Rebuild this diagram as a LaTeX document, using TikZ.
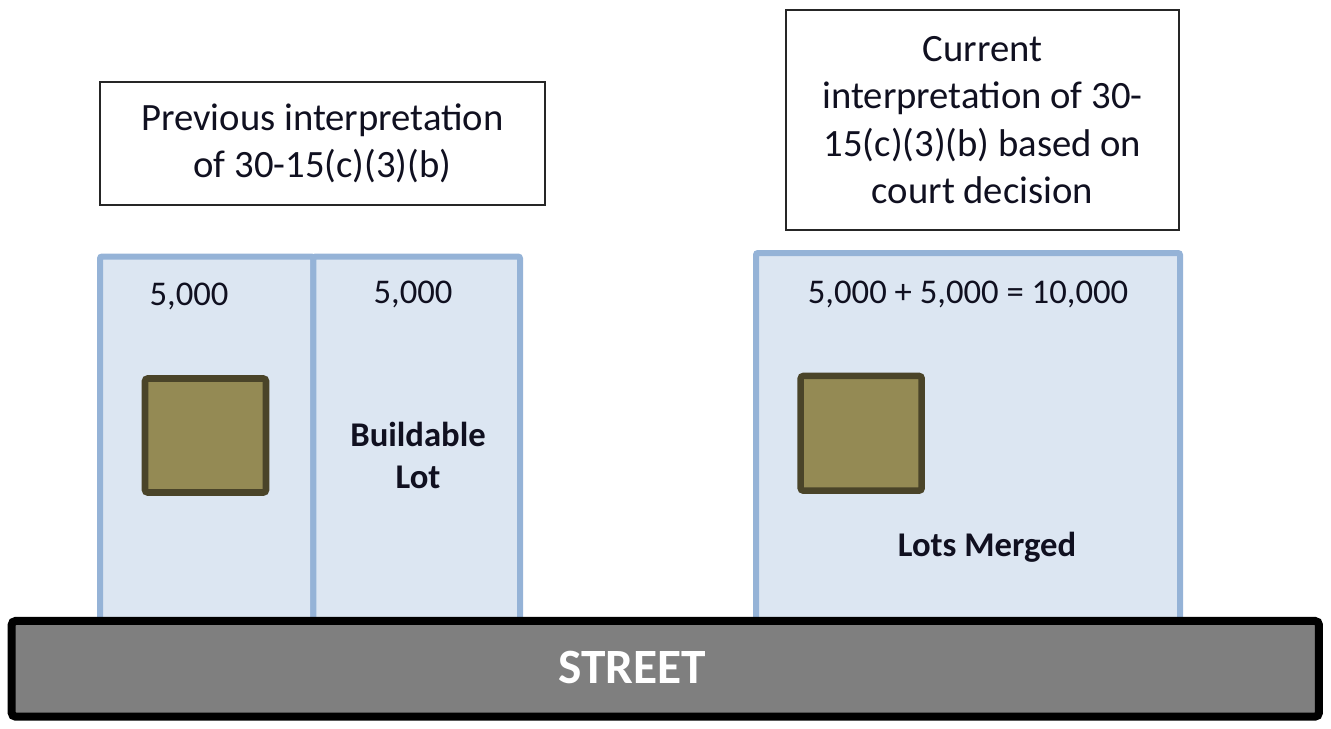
\documentclass[tikz,border=0pt]{standalone}
\usepackage{fontspec}
\setmainfont{Carlito}
\definecolor{lotline}{HTML}{95B3D7}
\definecolor{lotfill}{HTML}{DCE6F2}
\definecolor{housefill}{HTML}{948A54}
\definecolor{houseline}{HTML}{4A4429}
\definecolor{streetfill}{HTML}{7F7F7F}
\definecolor{txt}{HTML}{101020}
\begin{document}
\begin{tikzpicture}[x=0.75pt,y=-0.75pt,
  titlebox/.style={draw=black!85,line width=1.5pt,fill=white,inner sep=0pt,
    font=\fontsize{29}{35.5}\selectfont,text=txt,align=center},
  lotbox/.style={draw=lotline,fill=lotfill,line width=4.5pt,rounded corners=1.5pt,inner sep=0pt},
  housebox/.style={draw=houseline,fill=housefill,line width=4.9pt,rounded corners=2pt,inner sep=0pt},
  streetbox/.style={draw=black,fill=streetfill,line width=6pt,rounded corners=3pt,inner sep=0pt,
    text=white,font=\fontsize{37}{44}\selectfont\bfseries},
  lbl/.style={inner sep=0pt,text=txt,font=\fontsize{26}{31.5}\selectfont,align=center},
  blbl/.style={lbl,font=\fontsize{26}{31.5}\selectfont\bfseries}]
\useasboundingbox (0,0) rectangle (1331,728);
% title boxes
\node[titlebox,minimum width=333.75pt,minimum height=92.25pt] (prev) at (322.5,143.5)
  {Previous interpretation\\of 30-15(c)(3)(b)};
\node[titlebox,minimum width=294.75pt,minimum height=165pt] (curr) at (982.5,120)
  {Current\\interpretation of 30-\\15(c)(3)(b) based on\\court decision};
% lots
\node[lotbox,minimum width=160.1pt,minimum height=287.6pt] (lotA) at (206.75,448.25) {};
\node[lotbox,minimum width=154.9pt,minimum height=287.6pt] (lotB) at (416.75,448.25) {};
\node[lotbox,minimum width=318pt,minimum height=290.25pt] (lotC) at (968,446.5) {};
% houses
\node[housebox,minimum width=90.75pt,minimum height=85.5pt] (houseA) at (205.5,435.5) {};
\node[housebox,minimum width=90.75pt,minimum height=86pt] (houseC) at (861.2,433.3) {};
% labels
\node[lbl] (areaA) at (189,296) {5,000};
\node[lbl] (areaB) at (413,294) {5,000};
\node[blbl] (build) at (418,455) {Buildable\\Lot};
\node[lbl] (areaC) at (968,294) {5,000 + 5,000 = 10,000};
\node[blbl] (merged) at (987,547) {Lots Merged};
% street
\node[streetbox,minimum width=980.5pt,minimum height=71.8pt] (street) at (665.3,668.8) {};
\node[inner sep=0pt,text=white,font=\fontsize{37}{44}\selectfont\bfseries] (streetlbl) at (632,667) {STREET};
\end{tikzpicture}
\end{document}
